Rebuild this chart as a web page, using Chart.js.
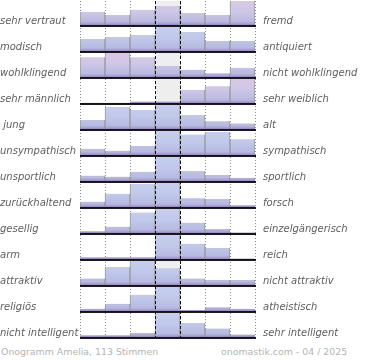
<!DOCTYPE html>
<html>
<head>
<meta charset="utf-8">
<script src="https://cdn.jsdelivr.net/npm/chart.js@4.4.1/dist/chart.umd.min.js"></script>
<style>
  html, body { margin: 0; padding: 0; background: #fff; width: 370px; height: 360px; overflow: hidden; }
  #c { position: absolute; left: 0; top: 0; }
  .foot { position: absolute; top: 346px; font: 9.4px "DejaVu Sans", sans-serif; color: #b4b4b4; white-space: nowrap; }
</style>
</head>
<body>
<canvas id="c" width="370" height="339"></canvas>
<div class="foot" style="left:1px">Onogramm Amelia, 113 Stimmen</div>
<div class="foot" style="left:221px">onomastik.com - 04 / 2025</div>
<script>
// Onogramm: 13 polarity pairs, 7-step rating, bar height = share of votes (tallest = 100)
const leftLabels = ['sehr vertraut', 'modisch', 'wohlklingend', 'sehr männlich', ' jung', 'unsympathisch',
  'unsportlich', 'zurückhaltend', 'gesellig', 'arm', 'attraktiv', 'religiös', 'nicht intelligent']
const rightLabels = ['fremd', 'antiquiert', 'nicht wohlklingend', 'sehr weiblich', 'alt', 'sympathisch',
  'sportlich', 'forsch', 'einzelgängerisch', 'reich', 'nicht attraktiv', 'atheistisch', 'sehr intelligent']
const steps = ['1', '2', '3', '4', '5', '6', '7']

const vertraut = [54, 42, 63, 79, 50, 42, 100]
const modisch = [50, 58, 67, 100, 79, 42, 42]
const wohlklingend = [82, 100, 82, 46, 30, 16, 38]
const maennlich = [0, 0, 6, 6, 54, 70, 100]
const jung = [37, 92, 79, 100, 58, 32, 23]
const sympathisch = [26, 18, 37, 100, 85, 96, 66]
const sportlich = [22, 18, 38, 100, 42, 25, 13]
const forsch = [22, 55, 97, 100, 36, 33, 7]
const gesellig = [7, 26, 85, 100, 43, 17, 2]
const reich = [7, 7, 7, 100, 64, 46, 2]
const attraktiv = [27, 75, 100, 70, 27, 21, 21]
const religioes = [9, 30, 68, 100, 4, 15, 9]
const intelligent = [7, 7, 17, 100, 58, 35, 10]

const rows = [vertraut, modisch, wohlklingend, maennlich, jung, sympathisch, sportlich,
  forsch, gesellig, reich, attraktiv, religioes, intelligent]
const pinkRows = [0, 2, 3]

const ROW_MIN = -8.5 // room under each row for the black base rule

const fills = {}
function rowFill(chart, id, pink) {
  const s = chart.scales[id]
  if (!s || !chart.chartArea) return '#c4cae8'
  const top = s.getPixelForValue(100), base = s.getPixelForValue(0)
  const key = id + ':' + top
  if (fills[key]) return fills[key]
  const g = chart.ctx.createLinearGradient(0, top, 0, base)
  if (pink) {
    g.addColorStop(0, '#ddc7e7')
    g.addColorStop(0.45, '#cec7e7')
  } else {
    g.addColorStop(0, '#c5cfef')
    g.addColorStop(0.45, '#c1c9eb')
  }
  g.addColorStop(0.86, '#b7bae1')
  g.addColorStop(1, '#a092c8')
  fills[key] = g
  return g
}

const scales = {
  x: {
    type: 'category', labels: steps, offset: true,
    grid: { offset: true, color: '#8c8c8c', lineWidth: 1, drawTicks: false },
    border: { display: false, dash: [1, 2] },
    ticks: { display: false }
  }
}
// stacked axes are laid out bottom-up, so add the last row first
for (let i = rows.length - 1; i >= 0; i--) {
  scales['y' + i] = {
    type: 'linear', position: 'left', stack: 'rows', stackWeight: 1,
    min: ROW_MIN, max: 100,
    grid: { display: false, drawTicks: false },
    border: { display: false },
    ticks: { display: false }
  }
}

const onogramm = {
  id: 'onogramm',
  beforeDatasetsDraw(chart) {
    const { ctx, chartArea: a, scales: { x } } = chart
    const w = a.width / steps.length
    ctx.save()
    ctx.fillStyle = '#eeeeee'
    ctx.fillRect(x.getPixelForValue(3) - w / 2, a.top, w, a.height)
    ctx.restore()
  },
  afterDatasetsDraw(chart) {
    const { ctx, chartArea: a, scales: { x } } = chart
    const w = a.width / steps.length
    ctx.save()
    // base rule of every row
    rows.forEach((r, i) => {
      const base = chart.scales['y' + i].getPixelForValue(0)
      ctx.fillStyle = '#141414'
      ctx.fillRect(a.left, base, a.width + 1, 2)
    })
    // dashed edges of the neutral column
    ctx.strokeStyle = '#111'
    ctx.lineWidth = 1
    ctx.setLineDash([3, 2])
    const mid = x.getPixelForValue(3)
    ;[mid - w / 2, mid + w / 2].forEach(px => {
      const p = Math.round(px) + 0.5
      ctx.beginPath()
      ctx.moveTo(p, a.top)
      ctx.lineTo(p, a.bottom)
      ctx.stroke()
    })
    ctx.setLineDash([])
    // pole labels
    ctx.font = 'italic 10px "DejaVu Sans"'
    ctx.fillStyle = '#5e5e5e'
    ctx.textBaseline = 'alphabetic'
    ctx.textAlign = 'left'
    rows.forEach((r, i) => {
      const base = chart.scales['y' + i].getPixelForValue(0)
      ctx.fillText(leftLabels[i], 0, base - 1)
      ctx.fillText(rightLabels[i], a.right + 8, base - 1)
    })
    ctx.restore()
  }
}

new Chart(document.getElementById('c'), {
  type: 'bar',
  data: {
    labels: steps,
    datasets: rows.map((r, i) => ({
      data: r,
      yAxisID: 'y' + i,
      grouped: false,
      barPercentage: 1,
      categoryPercentage: 1,
      backgroundColor: (c) => rowFill(c.chart, 'y' + i, pinkRows.includes(i)),
      borderColor: '#989898',
      borderWidth: { left: 1, right: 1, top: 0, bottom: 0 },
      borderSkipped: 'bottom'
    }))
  },
  options: {
    responsive: false,
    animation: false,
    layout: { padding: { left: 80, right: 115, top: 1, bottom: 0 } },
    scales: scales,
    plugins: { legend: { display: false }, tooltip: { enabled: false } }
  },
  plugins: [onogramm]
})
</script>
</body>
</html>
